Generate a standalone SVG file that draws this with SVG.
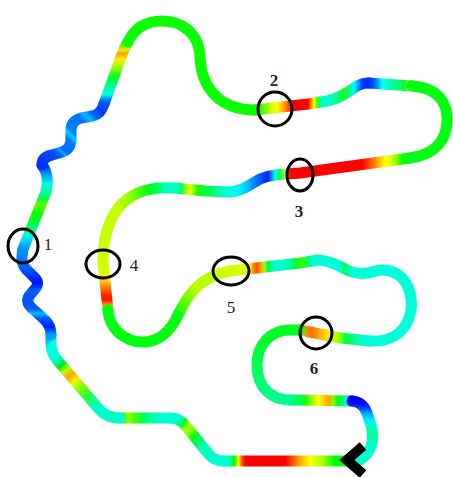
<svg xmlns="http://www.w3.org/2000/svg" width="453" height="477" viewBox="0 0 453 477">
<defs>
<style>
.t{fill:none;stroke-width:11;stroke-linecap:round;stroke-linejoin:round}
.c{fill:none;stroke:#000;stroke-width:3}
.l{font-family:"Liberation Serif","Times New Roman",serif;font-size:17px;fill:#222;text-anchor:middle}
.b{font-weight:bold}
</style>
<linearGradient id="g1" gradientUnits="userSpaceOnUse" x1="350" y1="0" x2="224" y2="0">
<stop offset="0" stop-color="#00ff30"/><stop offset="0.12" stop-color="#00ff00"/><stop offset="0.22" stop-color="#aaff00"/><stop offset="0.32" stop-color="#ffff00"/><stop offset="0.41" stop-color="#ff9900"/><stop offset="0.5" stop-color="#ff1000"/><stop offset="0.52" stop-color="#ff0000"/><stop offset="0.83" stop-color="#ff0000"/><stop offset="0.86" stop-color="#ff6000"/><stop offset="0.885" stop-color="#ffff00"/><stop offset="0.915" stop-color="#00ff00"/><stop offset="0.96" stop-color="#00ffb0"/><stop offset="1" stop-color="#00ffd8"/>
</linearGradient>
<linearGradient id="g2" gradientUnits="userSpaceOnUse" x1="224" y1="461" x2="170" y2="418">
<stop offset="0" stop-color="#00ffd8"/><stop offset="0.35" stop-color="#00ffc0"/><stop offset="0.47" stop-color="#00ff60"/><stop offset="0.56" stop-color="#00ff20"/><stop offset="0.66" stop-color="#90ff00"/><stop offset="0.73" stop-color="#a0ff00"/><stop offset="0.8" stop-color="#00ff30"/><stop offset="0.9" stop-color="#00ffd0"/><stop offset="1" stop-color="#00ffd8"/>
</linearGradient>
<linearGradient id="g3" gradientUnits="userSpaceOnUse" x1="170" y1="0" x2="120" y2="0">
<stop offset="0" stop-color="#00ffd8"/><stop offset="0.2" stop-color="#00ffd0"/><stop offset="0.4" stop-color="#00ffa0"/><stop offset="0.56" stop-color="#00ff40"/><stop offset="0.74" stop-color="#60ff00"/><stop offset="0.84" stop-color="#a0ff00"/><stop offset="0.92" stop-color="#40ff00"/><stop offset="1" stop-color="#00ffa0"/>
</linearGradient>
<linearGradient id="g4" gradientUnits="userSpaceOnUse" x1="120" y1="418" x2="51" y2="335">
<stop offset="0" stop-color="#00ffc8"/><stop offset="0.22" stop-color="#00ffc8"/><stop offset="0.34" stop-color="#20ff40"/><stop offset="0.45" stop-color="#80ff00"/><stop offset="0.53" stop-color="#e0ff00"/><stop offset="0.6" stop-color="#ffa000"/><stop offset="0.66" stop-color="#c0ff00"/><stop offset="0.72" stop-color="#00e820"/><stop offset="0.8" stop-color="#00ffd0"/><stop offset="0.93" stop-color="#00ffe0"/><stop offset="1" stop-color="#00b0ff"/>
</linearGradient>
<linearGradient id="g5" gradientUnits="userSpaceOnUse" x1="0" y1="335" x2="0" y2="249">
<stop offset="0" stop-color="#00a0ff"/><stop offset="0.094" stop-color="#0020ff"/><stop offset="0.2" stop-color="#0060ff"/><stop offset="0.247" stop-color="#00c0ff"/><stop offset="0.3" stop-color="#0060ff"/><stop offset="0.41" stop-color="#0050ff"/><stop offset="0.52" stop-color="#0060ff"/><stop offset="0.61" stop-color="#0010ff"/><stop offset="0.706" stop-color="#0040ff"/><stop offset="0.82" stop-color="#0070ff"/><stop offset="1" stop-color="#0090ff"/>
</linearGradient>
<linearGradient id="g6" gradientUnits="userSpaceOnUse" x1="0" y1="249" x2="0" y2="165">
<stop offset="0" stop-color="#0090ff"/><stop offset="0.095" stop-color="#00d0ff"/><stop offset="0.167" stop-color="#00ffd0"/><stop offset="0.26" stop-color="#00ff60"/><stop offset="0.417" stop-color="#00ff00"/><stop offset="0.536" stop-color="#60ff00"/><stop offset="0.595" stop-color="#00ff40"/><stop offset="0.69" stop-color="#00ffb0"/><stop offset="0.774" stop-color="#00ffd8"/><stop offset="0.88" stop-color="#00a0ff"/><stop offset="1" stop-color="#0030ff"/>
</linearGradient>
<linearGradient id="g7" gradientUnits="userSpaceOnUse" x1="42" y1="165" x2="104" y2="104">
<stop offset="0" stop-color="#0030ff"/><stop offset="0.19" stop-color="#0050ff"/><stop offset="0.24" stop-color="#0070ff"/><stop offset="0.27" stop-color="#00b0ff"/><stop offset="0.3" stop-color="#0070ff"/><stop offset="0.42" stop-color="#0070ff"/><stop offset="0.47" stop-color="#00d0ff"/><stop offset="0.52" stop-color="#0080ff"/><stop offset="0.69" stop-color="#0070ff"/><stop offset="0.76" stop-color="#00c0ff"/><stop offset="0.82" stop-color="#0070ff"/><stop offset="0.93" stop-color="#0030ff"/><stop offset="1" stop-color="#0050ff"/>
</linearGradient>
<linearGradient id="g8" gradientUnits="userSpaceOnUse" x1="0" y1="104" x2="0" y2="42">
<stop offset="0" stop-color="#0050ff"/><stop offset="0.065" stop-color="#0070ff"/><stop offset="0.145" stop-color="#00ffe0"/><stop offset="0.27" stop-color="#00ffa0"/><stop offset="0.435" stop-color="#00ff20"/><stop offset="0.6" stop-color="#a0ff00"/><stop offset="0.726" stop-color="#ffee00"/><stop offset="0.806" stop-color="#ffa000"/><stop offset="0.87" stop-color="#ffe000"/><stop offset="0.935" stop-color="#60ff00"/><stop offset="1" stop-color="#00ff00"/>
</linearGradient>
<linearGradient id="g10" gradientUnits="userSpaceOnUse" x1="255" y1="0" x2="369" y2="0">
<stop offset="0" stop-color="#00ff00"/><stop offset="0.061" stop-color="#40ff00"/><stop offset="0.132" stop-color="#c0ff00"/><stop offset="0.193" stop-color="#ffff00"/><stop offset="0.254" stop-color="#ffa000"/><stop offset="0.316" stop-color="#ff2000"/><stop offset="0.333" stop-color="#ff0000"/><stop offset="0.465" stop-color="#ff0000"/><stop offset="0.491" stop-color="#ff8000"/><stop offset="0.518" stop-color="#ffff00"/><stop offset="0.544" stop-color="#40ff00"/><stop offset="0.579" stop-color="#00ffb0"/><stop offset="0.623" stop-color="#00ffd8"/><stop offset="0.693" stop-color="#00ffb0"/><stop offset="0.746" stop-color="#00ff60"/><stop offset="0.79" stop-color="#20ff20"/><stop offset="0.833" stop-color="#00ffa0"/><stop offset="0.868" stop-color="#00ffff"/><stop offset="0.904" stop-color="#00a0ff"/><stop offset="0.939" stop-color="#0040ff"/><stop offset="1" stop-color="#0030ff"/>
</linearGradient>
<linearGradient id="g11" gradientUnits="userSpaceOnUse" x1="369" y1="0" x2="412" y2="0">
<stop offset="0" stop-color="#0030ff"/><stop offset="0.093" stop-color="#0050ff"/><stop offset="0.209" stop-color="#00a0ff"/><stop offset="0.302" stop-color="#00ffff"/><stop offset="0.442" stop-color="#00ffc0"/><stop offset="0.651" stop-color="#00ff80"/><stop offset="0.814" stop-color="#00ff40"/><stop offset="0.907" stop-color="#60ff00"/><stop offset="1" stop-color="#00ff10"/>
</linearGradient>
<linearGradient id="g11c" gradientUnits="userSpaceOnUse" x1="410" y1="0" x2="230" y2="0">
<stop offset="0" stop-color="#00ff20"/><stop offset="0.039" stop-color="#00ff00"/><stop offset="0.072" stop-color="#80ff00"/><stop offset="0.111" stop-color="#e0ff00"/><stop offset="0.139" stop-color="#ffff00"/><stop offset="0.183" stop-color="#ffa000"/><stop offset="0.222" stop-color="#ff5000"/><stop offset="0.267" stop-color="#ff0000"/><stop offset="0.667" stop-color="#ff0000"/><stop offset="0.683" stop-color="#ff8000"/><stop offset="0.694" stop-color="#c0ff00"/><stop offset="0.722" stop-color="#00ff60"/><stop offset="0.75" stop-color="#00ffd0"/><stop offset="0.767" stop-color="#00a0ff"/><stop offset="0.789" stop-color="#0020ff"/><stop offset="0.822" stop-color="#0050ff"/><stop offset="0.861" stop-color="#0080ff"/><stop offset="0.9" stop-color="#00c0ff"/><stop offset="0.944" stop-color="#00f0ff"/><stop offset="1" stop-color="#00ffe0"/>
</linearGradient>
<linearGradient id="g12" gradientUnits="userSpaceOnUse" x1="230" y1="0" x2="118" y2="0">
<stop offset="0" stop-color="#00ffe0"/><stop offset="0.116" stop-color="#00ffa0"/><stop offset="0.205" stop-color="#00ff40"/><stop offset="0.295" stop-color="#20ff00"/><stop offset="0.348" stop-color="#e0ff00"/><stop offset="0.384" stop-color="#c0ff00"/><stop offset="0.429" stop-color="#00ff60"/><stop offset="0.473" stop-color="#00ffc0"/><stop offset="0.58" stop-color="#00ffc0"/><stop offset="0.643" stop-color="#00ff60"/><stop offset="0.714" stop-color="#00ff20"/><stop offset="0.8" stop-color="#40ff00"/><stop offset="0.893" stop-color="#90ff00"/><stop offset="1" stop-color="#c0ff00"/>
</linearGradient>
<linearGradient id="g13" gradientUnits="userSpaceOnUse" x1="0" y1="208" x2="0" y2="310">
<stop offset="0" stop-color="#c0ff00"/><stop offset="0.608" stop-color="#d0ff00"/><stop offset="0.686" stop-color="#ffee00"/><stop offset="0.765" stop-color="#ff9000"/><stop offset="0.843" stop-color="#ff3000"/><stop offset="0.902" stop-color="#ff1000"/><stop offset="0.941" stop-color="#ff8000"/><stop offset="0.97" stop-color="#80ff00"/><stop offset="1" stop-color="#00ff20"/>
</linearGradient>
<linearGradient id="g15" gradientUnits="userSpaceOnUse" x1="178" y1="315" x2="230" y2="271">
<stop offset="0" stop-color="#00ff10"/><stop offset="0.2" stop-color="#60ff00"/><stop offset="0.4" stop-color="#b0ff00"/><stop offset="1" stop-color="#ccff00"/>
</linearGradient>
<linearGradient id="g16" gradientUnits="userSpaceOnUse" x1="230" y1="0" x2="393" y2="0">
<stop offset="0" stop-color="#ccff00"/><stop offset="0.098" stop-color="#e0ff00"/><stop offset="0.123" stop-color="#ffff00"/><stop offset="0.141" stop-color="#ff9000"/><stop offset="0.166" stop-color="#ff5000"/><stop offset="0.19" stop-color="#ffa000"/><stop offset="0.209" stop-color="#a0ff00"/><stop offset="0.233" stop-color="#00ff40"/><stop offset="0.27" stop-color="#00ffd0"/><stop offset="0.319" stop-color="#00ffd8"/><stop offset="0.368" stop-color="#00ff90"/><stop offset="0.411" stop-color="#00ff30"/><stop offset="0.448" stop-color="#40ff00"/><stop offset="0.479" stop-color="#00ff80"/><stop offset="0.509" stop-color="#00ffd8"/><stop offset="0.675" stop-color="#00ffd8"/><stop offset="0.706" stop-color="#00ff40"/><stop offset="0.73" stop-color="#00ffc0"/><stop offset="0.767" stop-color="#00ffd8"/><stop offset="1" stop-color="#00ffd8"/>
</linearGradient>
<linearGradient id="g18" gradientUnits="userSpaceOnUse" x1="370" y1="0" x2="300" y2="0">
<stop offset="0" stop-color="#00ffd8"/><stop offset="0.114" stop-color="#00ffd0"/><stop offset="0.214" stop-color="#00ff90"/><stop offset="0.343" stop-color="#00ff40"/><stop offset="0.429" stop-color="#80ff00"/><stop offset="0.543" stop-color="#e8ff00"/><stop offset="0.643" stop-color="#ffd000"/><stop offset="0.743" stop-color="#ffa000"/><stop offset="0.829" stop-color="#ff7000"/><stop offset="0.929" stop-color="#ff9000"/><stop offset="0.971" stop-color="#c0ff00"/><stop offset="1" stop-color="#00ff40"/>
</linearGradient>
<linearGradient id="g19" gradientUnits="userSpaceOnUse" x1="0" y1="330" x2="0" y2="400">
<stop offset="0" stop-color="#00ff20"/><stop offset="0.5" stop-color="#00ff50"/><stop offset="1" stop-color="#00ff90"/>
</linearGradient>
<linearGradient id="g20" gradientUnits="userSpaceOnUse" x1="290" y1="0" x2="352" y2="0">
<stop offset="0" stop-color="#00ff90"/><stop offset="0.161" stop-color="#00ff50"/><stop offset="0.258" stop-color="#20ff00"/><stop offset="0.355" stop-color="#a0ff00"/><stop offset="0.452" stop-color="#ffff00"/><stop offset="0.548" stop-color="#ffd000"/><stop offset="0.629" stop-color="#ffa000"/><stop offset="0.694" stop-color="#80ff00"/><stop offset="0.774" stop-color="#00ff20"/><stop offset="0.855" stop-color="#00ff80"/><stop offset="0.919" stop-color="#00ffd0"/><stop offset="0.968" stop-color="#0060ff"/><stop offset="1" stop-color="#0000ff"/>
</linearGradient>
<linearGradient id="g20b" gradientUnits="userSpaceOnUse" x1="0" y1="401" x2="0" y2="459">
<stop offset="0" stop-color="#0000ff"/><stop offset="0.052" stop-color="#0010ff"/><stop offset="0.12" stop-color="#0040ff"/><stop offset="0.207" stop-color="#00a0ff"/><stop offset="0.328" stop-color="#00f0ff"/><stop offset="0.466" stop-color="#00ffb0"/><stop offset="0.6" stop-color="#00ffa0"/><stop offset="0.76" stop-color="#00ffd0"/><stop offset="1" stop-color="#00ffd0"/>
</linearGradient>
</defs>
<rect width="453" height="477" fill="#fff"/>
<g id="track">
<path class="t" stroke="url(#g1)" d="M350,461 L224,461"/>
<path class="t" stroke="url(#g2)" d="M224,461 Q213,461 207,452 L185,425 Q179,418 170,418"/>
<path class="t" stroke="url(#g3)" d="M170,418 L120,418"/>
<path class="t" stroke="url(#g4)" d="M120,418 Q106,418 98,408 L58,361 Q51,353 51,343 L51,335"/>
<path class="t" stroke="url(#g5)" d="M51,335 Q51,326 45,320 L34,310 Q25,303 29,296 L35,289 Q40,283 35,278 L26,269 Q21,263 22,256 L23,249"/>
<path class="t" stroke="url(#g6)" d="M23,249 L46,192 Q48,185 47,177 Q46,170 42,165"/>
<path class="t" stroke="url(#g7)" d="M42,165 Q42,157 52,155 L62,152 Q71,149 71,139 L71,130 Q71,121 81,118 L93,116 Q101,114 104,104"/>
<path class="t" stroke="url(#g8)" d="M104,104 L121,57 Q124,48 128,42"/>
<path class="t" stroke="#0cff00" d="M128,42 C135,27 147,21 162,21 C185,21 199,36 200,56 C201,90 222,110 255,110"/>
<path class="t" stroke="url(#g10)" d="M255,110 L308,104 L327,101 Q337,99 348,92 L357,86 Q362,83 369,83"/>
<path class="t" stroke="url(#g11)" d="M369,83 L412,86"/>
<path class="t" stroke="#00ff10" d="M412,86 C440,88 448,105 447,122 C446,145 430,155 410,158"/>
<path class="t" stroke="url(#g11c)" d="M410,158 L300,173 L275,175 Q267,176 260,179 L248,186 Q240,191 230,192"/>
<path class="t" stroke="url(#g12)" d="M230,192 L205,191 L175,188 C150,186 130,193 118,208"/>
<path class="t" stroke="url(#g13)" d="M118,208 C108,222 103,240 103,262 L108,310"/>
<path class="t" stroke="#00ff10" d="M108,310 C109,328 124,342 143,342 C160,342 171,330 178,315"/>
<path class="t" stroke="url(#g15)" d="M178,315 C190,290 203,276 230,271"/>
<path class="t" stroke="url(#g16)" d="M230,271 L300,263 L318,260 Q332,261 345,269 Q358,276 372,272 Q383,268 393,272"/>
<path class="t" stroke="#00ffd8" d="M393,272 C412,280 414,305 409,318 C403,335 388,342 370,341"/>
<path class="t" stroke="url(#g18)" d="M370,341 L340,338 L300,330"/>
<path class="t" stroke="url(#g19)" d="M300,330 L290,330 C270,330 257,345 257,365 C257,388 272,400 290,400"/>
<path class="t" stroke="url(#g20)" d="M290,400 L352,401"/>
<path class="t" stroke="url(#g20b)" d="M352,401 Q363,402 367,413 L371,425 C375,440 372,452 360,460"/>
<polyline id="start" points="363,446 347,460 363,474" fill="none" stroke="#000" stroke-width="10" stroke-linejoin="miter"/>
</g>
<g id="m1"><ellipse class="c" cx="23" cy="246" rx="15" ry="17"/><text class="l" x="48" y="250">1</text></g>
<g id="m2"><ellipse class="c" cx="275" cy="109" rx="17" ry="17"/><text class="l b" x="274" y="86">2</text></g>
<g id="m3"><ellipse class="c" cx="300" cy="175" rx="13" ry="16"/><text class="l b" x="299" y="217">3</text></g>
<g id="m4"><ellipse class="c" cx="103" cy="264" rx="17" ry="14"/><text class="l" x="134" y="271">4</text></g>
<g id="m5"><ellipse class="c" cx="231" cy="271" rx="18" ry="14"/><text class="l" x="231" y="313">5</text></g>
<g id="m6"><ellipse class="c" cx="316" cy="333" rx="16" ry="16"/><text class="l b" x="314" y="374">6</text></g>
</svg>
